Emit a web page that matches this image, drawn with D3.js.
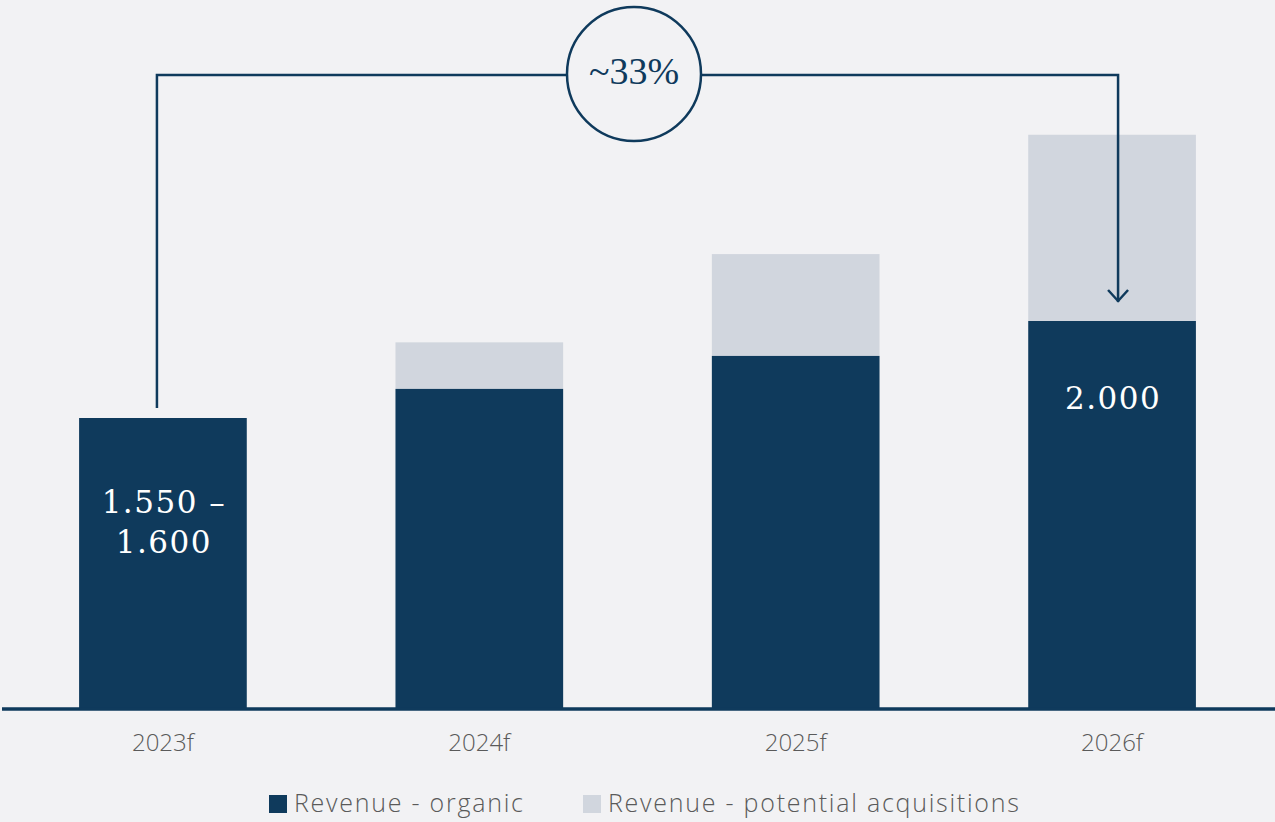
<!DOCTYPE html>
<html>
<head>
<meta charset="utf-8">
<script src="https://cdn.jsdelivr.net/npm/d3@7"></script>
<style>
  html, body { margin: 0; padding: 0; background: #f2f2f4; }
  svg { display: block; }
  .cat { font-family: "Open Sans", sans-serif; font-weight: 300; font-size: 24px; fill: #5a5a5a; }
  .legend text { font-family: "Open Sans", sans-serif; font-weight: 300; font-size: 25px; letter-spacing: 1.75px; fill: #5a5a5a; }
  .val { font-family: "DejaVu Serif", serif; font-size: 31px; letter-spacing: 1.5px; fill: #fff; }
  .growth { font-family: "Liberation Serif", serif; font-size: 38px; fill: #0f3a5c; }
</style>
</head>
<body>
<svg id="chart" width="1275" height="822"></svg>
<script>
// values
let years = ["2023f", "2024f", "2025f", "2026f"]
let organic = [1500, 1650, 1820, 2000]
let acquisitions = [0, 240, 525, 960]
let series_names = ["Revenue - organic", "Revenue - potential acquisitions"]
let growth_label = "~33%"
let bar_labels = [["1.550 –", "1.600"], null, null, ["2.000"]]

let width = 1275,
  height = 822,
  base = 709,
  colors = { organic: "#0f3a5c", acq: "#d1d6de" }

let svg = d3.select("#chart")

let scales = {
  x: d3.scaleBand()
    .domain(years)
    .range([0, width])
    .paddingInner(0.47)
    .paddingOuter(0.25),
  y: d3.scaleLinear()
    .domain([0, 3000])
    .range([base, base - 582])
}

let data = years.map((y, i) => ({
  year: y, organic: organic[i], acq: acquisitions[i], label: bar_labels[i]
}))

// stacked bars
let bars = svg.append("g")
bars.selectAll("rect.acq")
  .data(data).enter()
  .append("rect")
  .attr("class", "acq")
  .attr("x", d => scales.x(d.year))
  .attr("width", scales.x.bandwidth())
  .attr("y", d => scales.y(d.organic + d.acq))
  .attr("height", d => scales.y(d.organic) - scales.y(d.organic + d.acq))
  .attr("fill", colors.acq)

bars.selectAll("rect.org")
  .data(data).enter()
  .append("rect")
  .attr("class", "org")
  .attr("x", d => scales.x(d.year))
  .attr("width", scales.x.bandwidth())
  .attr("y", d => scales.y(d.organic))
  .attr("height", d => scales.y(0) - scales.y(d.organic))
  .attr("fill", colors.organic)

// value labels inside bars
let cx = d => scales.x(d.year) + scales.x.bandwidth() / 2
svg.append("g")
  .selectAll("text")
  .data(data.filter(d => d.label)).enter()
  .append("text")
  .attr("class", "val")
  .attr("text-anchor", "middle")
  .attr("x", cx)
  .attr("y", d => d.label.length > 1 ? scales.y(d.organic) + 95 : scales.y(d.organic) + 88)
  .selectAll("tspan")
  .data(d => d.label.map((t, j) => ({ t, j, x: cx(d) + 1 }))).enter()
  .append("tspan")
  .attr("x", d => d.x)
  .attr("dy", d => d.j == 0 ? 0 : 40)
  .text(d => d.t)

// x axis
let x_axis = d3.axisBottom(scales.x).tickSize(0).tickPadding(25)
let ax = svg.append("g")
  .attr("transform", `translate(0, ${base})`)
  .call(x_axis)
ax.select(".domain").remove()
ax.selectAll("text").attr("class", "cat").attr("font-family", null).attr("font-size", null).attr("fill", null)
svg.append("line")
  .attr("x1", 2).attr("x2", width)
  .attr("y1", base).attr("y2", base)
  .attr("stroke", colors.organic)
  .attr("stroke-width", 3.5)

// growth connector
let first = data[0], last = data[3]
let lx = cx(first) - 6,
  rx = cx(last) + 6,
  ty = 75,
  circ = { x: 634, y: 74, r: 67 }
let conn = svg.append("g")
  .attr("fill", "none")
  .attr("stroke", colors.organic)
  .attr("stroke-width", 2.5)
conn.append("path")
  .attr("d", `M${lx},${scales.y(first.organic) - 10}V${ty}H${circ.x - circ.r}`)
conn.append("path")
  .attr("d", `M${circ.x + circ.r},${ty}H${rx}V${scales.y(last.organic) - 19}`)
conn.append("path")
  .attr("d", `M${rx - 10},${scales.y(last.organic) - 31}L${rx},${scales.y(last.organic) - 20}L${rx + 10},${scales.y(last.organic) - 31}`)
conn.append("circle")
  .attr("cx", circ.x).attr("cy", circ.y).attr("r", circ.r)
  .attr("fill", "#f2f2f4")
svg.append("text")
  .attr("class", "growth")
  .attr("text-anchor", "middle")
  .attr("x", circ.x)
  .attr("y", circ.y + 10)
  .text(growth_label)

// legend
let legend = svg.append("g").attr("class", "legend")
let lx0 = [269, 583]
series_names.forEach((name, i) => {
  legend.append("rect")
    .attr("x", lx0[i]).attr("y", 795)
    .attr("width", 18).attr("height", 18)
    .attr("fill", i == 0 ? colors.organic : colors.acq)
  legend.append("text")
    .attr("x", lx0[i] + 25).attr("y", 812)
    .text(name)
})
</script>
</body>
</html>
